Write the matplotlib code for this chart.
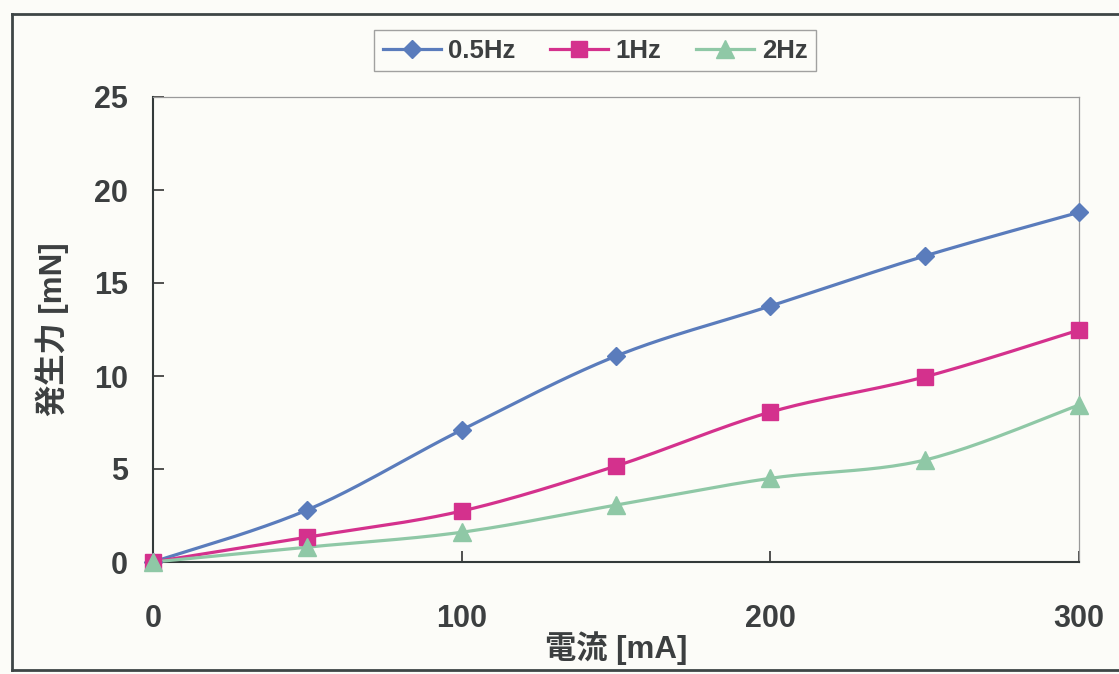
import matplotlib
matplotlib.use("Agg")
import matplotlib.pyplot as plt
from matplotlib.lines import Line2D
import numpy as np

# current [mA] vs generated force [mN]
current = [0, 50, 100, 150, 200, 250, 300]
force_05hz = [0, 2.8, 7.1, 11.07, 13.76, 16.45, 18.8]
force_1hz = [0, 1.34, 2.74, 5.16, 8.06, 9.95, 12.47]
force_2hz = [0, 0.8, 1.6, 3.06, 4.5, 5.48, 8.44]
series_names = ["0.5Hz", "1Hz", "2Hz"]

x_ticks = [0, 100, 200, 300]
y_ticks = [0, 5, 10, 15, 20, 25]

text_col = "#3c3f40"
bg = "#fcfcf8"
lat = ["Liberation Sans", "DejaVu Sans"]
jp = ["Liberation Sans", "Noto Sans CJK JP"]


def smooth(xs, ys, n=24):
    # excel-style smoothed line: bezier through the points (catmull-rom)
    pts = np.column_stack([xs, ys]).astype(float)
    p = np.vstack([pts[0], pts, pts[-1]])
    segs = []
    t = np.linspace(0, 1, n, endpoint=False)[:, None]
    for i in range(1, len(p) - 2):
        p0, p1, p2, p3 = p[i - 1], p[i], p[i + 1], p[i + 2]
        c1 = p1 + (p2 - p0) / 6
        c2 = p2 - (p3 - p1) / 6
        segs.append((1 - t) ** 3 * p1 + 3 * (1 - t) ** 2 * t * c1
                    + 3 * (1 - t) * t ** 2 * c2 + t ** 3 * p2)
    segs.append(pts[-1:])
    c = np.vstack(segs)
    return c[:, 0], c[:, 1]


fig = plt.figure(figsize=(11.19, 6.74), dpi=100, facecolor=bg)
W, H = 1119, 674
ax = fig.add_axes([153 / W, 1 - 562 / H, 926 / W, 465 / H])
ax.set_facecolor(bg)

styles = [
    (force_05hz, "#5a7cbc", "D", 9.5),
    (force_1hz, "#d4318d", "s", 12),
    (force_2hz, "#8fc8a6", "^", 13.5),
]
handles = []
for (vals, col, mk, ms), name in zip(styles, series_names):
    sx, sy = smooth(current, vals)
    ax.plot(sx, sy, color=col, lw=2.3, clip_on=False, zorder=3)
    ax.plot(current, vals, ls="none", marker=mk, ms=ms, color=col,
            mec=col, clip_on=False, zorder=4)
    handles.append(Line2D([], [], color=col, lw=2.3, marker=mk, ms=ms, mec=col))

ax.set_xlim(0, 300)
ax.set_ylim(0, 25)
ax.set_xticks(x_ticks)
ax.set_yticks(y_ticks)
ax.tick_params(axis="both", direction="in", length=8, width=1.2, color="#333333",
               labelsize=22, labelcolor=text_col)
ax.tick_params(axis="x", pad=30)
ax.tick_params(axis="y", pad=18)
for lab in ax.get_xticklabels() + ax.get_yticklabels():
    lab.set_fontweight("bold")
    lab.set_family(lat)

for side in ["left", "bottom"]:
    ax.spines[side].set_color("#333a3a")
    ax.spines[side].set_linewidth(1.5)
for side in ["top", "right"]:
    ax.spines[side].set_color("#9a9a9a")
    ax.spines[side].set_linewidth(0.9)

ax.set_xlabel("電流 [mA]", fontsize=22.5, fontweight="bold", color=text_col, family=jp)
ax.xaxis.set_label_coords(0.5, -0.148)
ax.set_ylabel("発生力 [mN]", fontsize=22.5, fontweight="bold", color=text_col, family=jp)
ax.yaxis.set_label_coords(-0.091, 0.5)

leg = fig.legend(handles, series_names, loc="center", bbox_to_anchor=(595 / W, 1 - 50.5 / H),
                 ncol=3, frameon=True, fancybox=False, handlelength=2.25,
                 handletextpad=0.3, columnspacing=1.35, borderpad=0.35,
                 prop={"family": lat, "weight": "bold", "size": 18.5})
leg.get_frame().set_edgecolor("#8a8a8a")
leg.get_frame().set_linewidth(1.0)
leg.get_frame().set_facecolor(bg)
for t in leg.get_texts():
    t.set_color(text_col)

# outer frame around the figure
fx = [12 / W, 12 / W]
fig.add_artist(Line2D([12 / W, 1], [1 - 14 / H, 1 - 14 / H], transform=fig.transFigure,
                      color="#3e4646", lw=2))
fig.add_artist(Line2D(fx, [1 - 14 / H, 1 - 670 / H], transform=fig.transFigure,
                      color="#3e4646", lw=2))
fig.add_artist(Line2D([12 / W, 1], [1 - 670 / H, 1 - 670 / H], transform=fig.transFigure,
                      color="#3e4646", lw=2))

fig.savefig("out.png", dpi=100, facecolor=bg)
